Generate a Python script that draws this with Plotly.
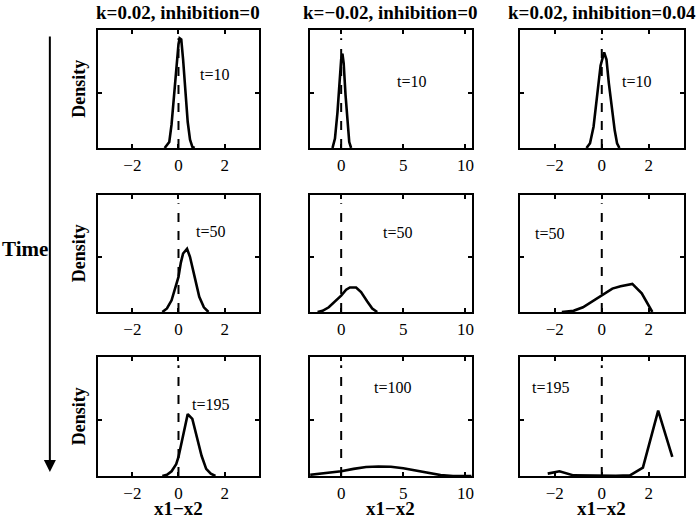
import plotly.graph_objects as go
from plotly.subplots import make_subplots

# ── Data (density in panel-height units) ─────────────────────────────────────
col_titles = ["k=0.02, inhibition=0", "k=−0.02, inhibition=0", "k=0.02, inhibition=0.04"]
time_labels = [["t=10", "t=10", "t=10"],
               ["t=50", "t=50", "t=50"],
               ["t=195", "t=100", "t=195"]]

x_ranges = [[-3.5, 3.5], [-2.5, 10.5], [-3.5, 3.5]]
x_ticks = [[-2, 0, 2], [0, 5, 10], [-2, 0, 2]]

# row 1
r1c1_x = [-0.6, -0.4, -0.3, -0.2, -0.1, 0.0, 0.05, 0.12, 0.2, 0.3, 0.4, 0.5, 0.6, 0.7]
r1c1_y = [0.0, 0.05, 0.2, 0.45, 0.7, 0.88, 0.93, 0.92, 0.75, 0.48, 0.22, 0.07, 0.01, 0.0]
r1c2_x = [-0.7, -0.5, -0.3, -0.15, 0.0, 0.1, 0.2, 0.35, 0.5, 0.65, 0.8]
r1c2_y = [0.0, 0.08, 0.3, 0.55, 0.75, 0.8, 0.72, 0.45, 0.2, 0.05, 0.0]
r1c3_x = [-0.65, -0.5, -0.35, -0.2, -0.05, 0.1, 0.2, 0.3, 0.45, 0.55, 0.65, 0.75]
r1c3_y = [0.0, 0.04, 0.18, 0.45, 0.7, 0.81, 0.75, 0.55, 0.3, 0.15, 0.04, 0.0]
# row 2
r2c1_x = [-0.7, -0.5, -0.3, -0.1, 0.0, 0.1, 0.2, 0.37, 0.5, 0.7, 0.9, 1.1, 1.3]
r2c1_y = [0.0, 0.03, 0.1, 0.22, 0.3, 0.42, 0.5, 0.54, 0.47, 0.3, 0.13, 0.04, 0.0]
r2c2_x = [-1.9, -1.5, -1.0, -0.5, 0.0, 0.4, 0.7, 1.2, 1.6, 2.1, 2.5, 2.9]
r2c2_y = [0.0, 0.01, 0.04, 0.09, 0.14, 0.19, 0.21, 0.21, 0.17, 0.09, 0.03, 0.0]
r2c3_x = [-1.7, -1.2, -0.8, -0.4, 0.0, 0.45, 0.8, 1.3, 1.7, 2.15]
r2c3_y = [0.0, 0.01, 0.04, 0.09, 0.14, 0.2, 0.22, 0.24, 0.16, 0.0]
# row 3
r3c1_x = [-0.7, -0.5, -0.3, -0.1, 0.0, 0.2, 0.4, 0.6, 0.8, 1.0, 1.2, 1.4, 1.6]
r3c1_y = [0.0, 0.01, 0.04, 0.1, 0.16, 0.35, 0.52, 0.48, 0.33, 0.17, 0.06, 0.02, 0.0]
r3c2_x = [-2.5, -1.0, 0.0, 1.0, 2.0, 3.0, 4.0, 5.0, 6.0, 7.0, 8.0, 9.0, 10.5]
r3c2_y = [0.01, 0.025, 0.04, 0.06, 0.075, 0.08, 0.078, 0.065, 0.045, 0.025, 0.008, 0.0, 0.0]
r3c3_x = [-2.3, -1.8, -1.2, -0.6, 0.0, 0.6, 1.2, 1.75, 2.4, 3.0]
r3c3_y = [0.02, 0.04, 0.005, 0.003, 0.002, 0.002, 0.005, 0.07, 0.55, 0.16]

curves = [[(r1c1_x, r1c1_y), (r1c2_x, r1c2_y), (r1c3_x, r1c3_y)],
          [(r2c1_x, r2c1_y), (r2c2_x, r2c2_y), (r2c3_x, r2c3_y)],
          [(r3c1_x, r3c1_y), (r3c2_x, r3c2_y), (r3c3_x, r3c3_y)]]

dash_top = 0.93

# ── Layout geometry (pixels in 700x520) ──────────────────────────────────────
W, H = 700, 520
col_px = [(98, 260), (311, 473), (521, 686)]
row_px = [(30, 148), (195, 312), (357, 476)]
label_pos = [[(0.72, 0.62), (0.63, 0.56), (0.71, 0.56)],
             [(0.70, 0.69), (0.54, 0.68), (0.18, 0.675)],
             [(0.70, 0.60), (0.51, 0.74), (0.19, 0.74)]]


def px_x(p):
    return p / W


def px_y(p):
    return 1 - p / H


SERIF = "Liberation Serif, Times New Roman, serif"

fig = make_subplots(rows=3, cols=3)

for r in range(3):
    for c in range(3):
        xs, ys = curves[r][c]
        fig.add_trace(go.Scatter(
            x=[0, 0], y=[0, dash_top], mode='lines',
            line=dict(color='black', width=2, dash='dash'),
            showlegend=False, hoverinfo='skip',
        ), row=r + 1, col=c + 1)
        fig.add_trace(go.Scatter(
            x=xs, y=ys, mode='lines',
            line=dict(color='black', width=2.6),
            showlegend=False,
        ), row=r + 1, col=c + 1)

        x0, x1 = col_px[c]
        y0, y1 = row_px[r]
        fig.update_xaxes(
            domain=[px_x(x0), px_x(x1)], range=x_ranges[c],
            tickvals=x_ticks[c], ticks='inside', ticklen=4, tickwidth=1.5,
            tickcolor='black', showline=True, linecolor='black', linewidth=2.2,
            mirror='ticks', showgrid=False, zeroline=False,
            tickfont=dict(family=SERIF, size=17, color='black'),
            row=r + 1, col=c + 1)
        fig.update_yaxes(
            domain=[px_y(y1), px_y(y0)], range=[0, 1],
            tickvals=[0.47], showticklabels=False, ticks='inside', ticklen=4,
            tickwidth=1.5, tickcolor='black', showline=True, linecolor='black',
            linewidth=2.2, mirror='ticks', showgrid=False, zeroline=False,
            row=r + 1, col=c + 1)

        n = r * 3 + c + 1
        suffix = '' if n == 1 else str(n)
        lx, ly = label_pos[r][c]
        fig.add_annotation(
            text=time_labels[r][c], xref=f'x{suffix} domain', yref=f'y{suffix} domain',
            x=lx, y=ly, xanchor='center', yanchor='middle', showarrow=False,
            font=dict(family=SERIF, size=16, color='black'))

# column titles
for c in range(3):
    x0, x1 = col_px[c]
    fig.add_annotation(
        text=f"<b>{col_titles[c]}</b>", xref='paper', yref='paper',
        x=px_x((x0 + x1) / 2), y=px_y(12), xanchor='center', yanchor='middle',
        showarrow=False, font=dict(family=SERIF, size=19, color='black'))

# "Density" labels on the left column
for r in range(3):
    y0, y1 = row_px[r]
    fig.add_annotation(
        text="<b>Density</b>", xref='paper', yref='paper',
        x=px_x(79), y=px_y((y0 + y1) / 2), xanchor='center', yanchor='middle',
        textangle=-90, showarrow=False,
        font=dict(family=SERIF, size=18, color='black'))

# x-axis labels under the bottom row
for c in range(3):
    x0, x1 = col_px[c]
    fig.add_annotation(
        text="<b>x1−x2</b>", xref='paper', yref='paper',
        x=px_x((x0 + x1) / 2), y=px_y(508), xanchor='center', yanchor='middle',
        borderpad=0, showarrow=False,
        font=dict(family=SERIF, size=19, color='black'))

# time arrow
fig.add_annotation(
    x=px_x(50), y=px_y(472), ax=0, ay=-(472 - 35),
    xref='paper', yref='paper', axref='pixel', ayref='pixel',
    text='', showarrow=True, arrowhead=2, arrowsize=1.2, arrowwidth=2,
    arrowcolor='black')
fig.add_annotation(
    text="<b>Time</b>", xref='paper', yref='paper',
    x=px_x(25), y=px_y(249), xanchor='center', yanchor='middle', showarrow=False,
    font=dict(family=SERIF, size=21, color='black'))

fig.update_layout(
    width=W, height=H,
    margin=dict(l=0, r=0, t=0, b=0),
    paper_bgcolor='white', plot_bgcolor='white',
    showlegend=False,
)

# drop the default page margin so the figure sits at the window's corner
fig.write_html("out.html", config={'displayModeBar': False},
               post_script="document.body.style.margin='0';")
